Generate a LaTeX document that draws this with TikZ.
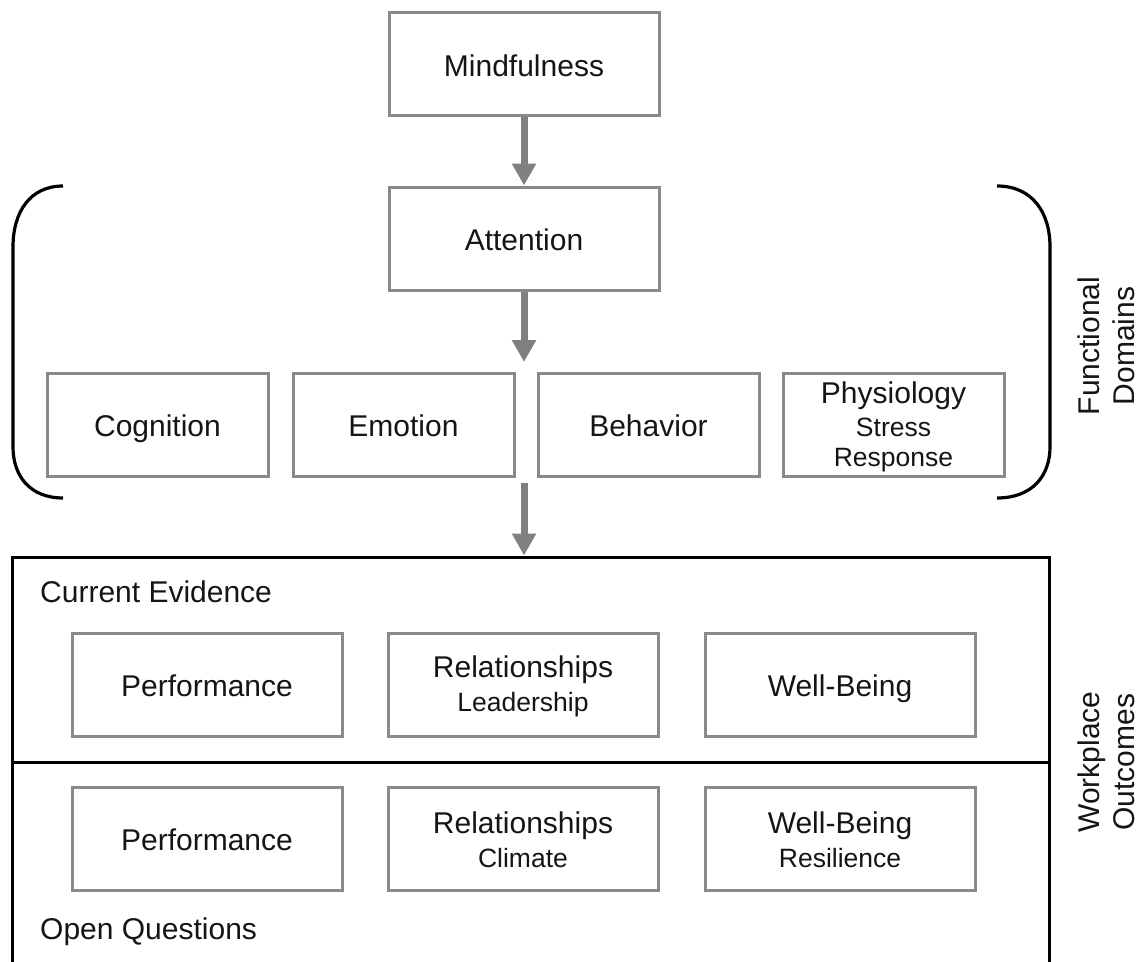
\documentclass[tikz,border=0pt]{standalone}
\usepackage{fontspec}
\setmainfont{Liberation Sans}
\usetikzlibrary{arrows.meta}
\definecolor{boxgray}{HTML}{8A8A8A}
\definecolor{arrgray}{HTML}{808080}
\definecolor{txt}{HTML}{151515}
\newcommand{\subtxt}{\fontsize{26.5}{34}\selectfont}
\tikzset{
  box/.style={draw=boxgray, line width=3pt, minimum width=270pt, minimum height=103pt, inner sep=0pt, align=center, text=txt, font=\fontsize{30}{34}\selectfont},
  onel/.style={text height=24pt, text depth=0pt},
  dombox/.style={box, minimum width=221pt},
  arr/.style={draw=arrgray, line width=7pt, -{Triangle[width=23pt,length=22pt]}},
  brk/.style={draw=black, line width=3.2pt},
  lbl/.style={text=txt, font=\fontsize{30}{35}\selectfont, inner sep=0pt, align=center},
}
\begin{document}
\begin{tikzpicture}[x=1pt,y=-1pt]
\useasboundingbox (0,0) rectangle (1143,961);
\clip (0,0) rectangle (1143,961);
% top chain
\node[box, onel] (mind) at (524,64) {Mindfulness};
\node[box, onel] (att) at (524,238.5) {Attention};
\node[dombox, onel] (cog) at (157.5,424.5) {Cognition};
\node[dombox, onel] (emo) at (403.5,424.5) {Emotion};
\node[dombox, onel] (beh) at (648.5,424.5) {Behavior};
\node[dombox] (phy) at (893.5,424.5) {\rule{0pt}{27pt}Physiology\\[-1pt]{\subtxt Stress}\\[-4pt]{\subtxt Response}};
\coordinate (a2end) at (524,362);
\coordinate (a3start) at (524,483);
% brackets
\draw[brk] (63,186) .. controls (30,186) and (13,212) .. (13,247) -- (13,447) .. controls (13,476) and (30,498) .. (63,498);
\draw[brk] (997,186) .. controls (1032,186) and (1050,212) .. (1050,247) -- (1050,447) .. controls (1050,476) and (1032,498) .. (997,498);
\node[lbl, rotate=90] (fd) at (1106,346) {Functional\\Domains};
% outcomes frame
\node[draw=black, line width=3pt, minimum width=1037pt, minimum height=423pt, inner sep=0pt] (outc) at (530.5,768.5) {};
\coordinate (divl) at (12,762);
\coordinate (divr) at (1049,762);
\draw[black, line width=3pt] (divl) -- (divr);
\node[lbl, anchor=west] (ce) at (40,592) {Current Evidence};
\node[lbl, anchor=west] (oq) at (40,932) {Open Questions};
\node[lbl, rotate=90] (wo) at (1106,762) {Workplace\\Outcomes};
% rows
\node[box, onel] (p1) at (207,684.5) {Performance};
\node[box] (r1) at (523,684.5) {\rule{0pt}{25pt}Relationships\\{\subtxt Leadership}};
\node[box, onel] (w1) at (840,684.5) {Well-Being};
\node[box, onel] (p2) at (207,838.5) {Performance};
\node[box] (r2) at (523,838.5) {\rule{0pt}{24pt}Relationships\\{\subtxt Climate}};
\node[box] (w2) at (840,838.5) {\rule{0pt}{24pt}Well-Being\\{\subtxt Resilience}};
% arrows
\draw[arr] (mind.south) -- (att.north);
\draw[arr] (att.south) -- (a2end);
\draw[arr] (a3start) -- (a3start |- outc.north);
\end{tikzpicture}
\end{document}
